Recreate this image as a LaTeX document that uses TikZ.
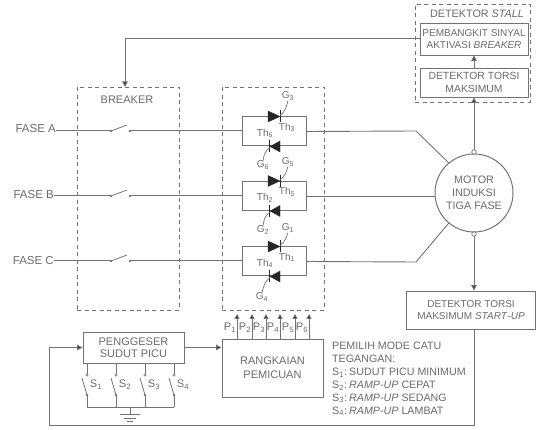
\documentclass[tikz,border=0pt]{standalone}
\usepackage{fontspec}
\setmainfont{Liberation Sans}
\usetikzlibrary{arrows.meta,calc}
\definecolor{ln}{gray}{0.45}
\definecolor{tx}{gray}{0.42}
\newcommand{\subs}[1]{\textsubscript{#1}}
\tikzset{
  lbl/.style={text=tx,font=\fontsize{10}{12.5}\selectfont,inner sep=0pt,align=center},
  small/.style={text=tx,font=\fontsize{10}{11}\selectfont,inner sep=0pt},
  blockbox/.style={draw=ln,line width=0.9pt,lbl,minimum width=#1},
  dbox/.style={draw=ln,line width=0.9pt,dashed,dash pattern=on 4pt off 3.5pt,inner sep=0pt},
  wire/.style={draw=ln,line width=1pt},
  conn/.style={wire,-{Triangle[length=5.5pt,width=5.5pt,fill=black!85]}},
  thybox/.style={draw=ln,line width=1pt,minimum width=64pt,minimum height=29pt,inner sep=0pt},
  dot/.style={circle,draw=ln,fill=ln,minimum size=2.2pt,inner sep=0pt},
  tri/.style={fill=black!85,draw=black!85,line width=0.3pt},
  gate/.style={draw=ln,line width=0.7pt},
}
\begin{document}
\begin{tikzpicture}[x=1pt,y=-1pt]
\useasboundingbox (0,0) rectangle (536,430);
% dashed containers
\node[dbox,minimum width=102pt,minimum height=223pt] (breaker) at (128,198.5) {};
\node[dbox,minimum width=102pt,minimum height=223pt] (thyr) at (273,198.5) {};
\node[dbox,minimum width=115pt,minimum height=98pt] (stall) at (472.5,53) {};
\node[lbl,font=\fontsize{11}{12}\selectfont] (brklabel) at (127,100) {BREAKER};
\node[lbl,font=\fontsize{10.8}{12}\selectfont] (stalllabel) at (477,14) {DETEKTOR \textit{STALL}};
% blocks
\node[blockbox=108pt,minimum height=32pt,font=\fontsize{10}{12.8}\selectfont] (pemb) at (474,39) {PEMBANGKIT SINYAL\\AKTIVASI \textit{BREAKER}};
\node[blockbox=108pt,minimum height=29pt,font=\fontsize{10.4}{12.8}\selectfont] (torsi) at (474,82.5) {DETEKTOR TORSI\\MAKSIMUM};
\node[circle,draw=ln,line width=1pt,minimum size=78pt,inner sep=0pt,lbl,font=\fontsize{10.8}{13}\selectfont] (motor) at (474,193) {MOTOR\\INDUKSI\\TIGA FASE};
\node[blockbox=129pt,minimum height=38pt] (start) at (471,310) {DETEKTOR TORSI\\MAKSIMUM \textit{START}-\textit{UP}};
\node[blockbox=101pt,minimum height=31pt,font=\fontsize{11}{12.5}\selectfont] (geser) at (133.5,347.5) {PENGGESER\\SUDUT PICU};
\node[blockbox=101pt,minimum height=58pt,font=\fontsize{11}{14}\selectfont] (picu) at (272.5,368) {RANGKAIAN\\PEMICUAN};
% thyristor blocks
\node[thybox] (thA) at (274,131.5) {};
\node[thybox] (thB) at (274,196) {};
\node[thybox] (thC) at (274,261.5) {};
% phase labels and switches
\node[lbl,anchor=east,font=\fontsize{11.5}{12}\selectfont] (fa) at (56,129) {FASE A};
\node[lbl,anchor=east,font=\fontsize{11.5}{12}\selectfont] (fb) at (54,195) {FASE B};
\node[lbl,anchor=east,font=\fontsize{11.5}{12}\selectfont] (fc) at (54,261) {FASE C};
\foreach \n/\y in {a/131,b/196,c/261}{
  \node[dot] (l\n) at (111,\y) {};
  \node[dot] (r\n) at (130,\y) {};
  \coordinate (t\n) at (127,\y-6);
  \draw[wire,line width=0.8pt] (l\n) -- (t\n);
}
\draw[wire] (fa.east |- la) -- (la);
\draw[wire] (fb.east |- lb) -- (lb);
\draw[wire] (fc.east |- lc) -- (lc);
\draw[wire] (ra) -- (ra -| thA.west);
\draw[wire] (rb) -- (rb -| thB.west);
\draw[wire] (rc) -- (rc -| thC.west);
% thyristor symbols
\foreach \b/\gx/\gy/\hx/\hy/\ga/\gb/\ta/\tb in {
  thA/288/96/263/165/3/6/3/6,
  thB/288/162/263/230/5/2/5/2,
  thC/288/228/262/297/1/4/1/4}{
  \fill[tri] ($(\b.north)+(-6,-5.5)$) -- ($(\b.north)+(6,0)$) -- ($(\b.north)+(-6,5.5)$) -- cycle;
  \draw[black!85,line width=1pt] ($(\b.north)+(6.5,-6)$) -- ($(\b.north)+(6.5,6)$);
  \fill[tri] ($(\b.south)+(6,-5.5)$) -- ($(\b.south)+(-4,0)$) -- ($(\b.south)+(6,5.5)$) -- cycle;
  \draw[black!85,line width=1pt] ($(\b.south)+(-4.5,-6)$) -- ($(\b.south)+(-4.5,6)$);
  \node[small] (g\ga) at (\gx,\gy) {G\subs{\ga}};
  \node[small] (g\gb) at (\hx,\hy) {G\subs{\gb}};
  \draw[gate] ($(\b.north)+(6,-1)$) .. controls ($(\b.north)+(11,-5)$) and ($(\b.north)+(12,-8)$) .. (g\ga.south);
  \draw[gate] ($(\b.south)+(-4,1)$) .. controls ($(\b.south)+(-9,5)$) and ($(\b.south)+(-10,8)$) .. (g\gb.north);
  \node[small] at ($(\b.center)+(13,-4)$) {Th\subs{\ta}};
  \node[small] at ($(\b.center)+(-9,2)$) {Th\subs{\tb}};
}
% thyristors to motor
\coordinate (bendA) at (416,131);
\coordinate (bendC) at (416,262);
\draw[wire,line width=0.9pt] (thA.east) -- (bendA) -- (motor.130);
\draw[wire,line width=0.9pt] (thB.east) -- (thB.east -| motor.west);
\draw[wire,line width=0.9pt] (thC.east) -- (bendC) -- (motor.230);
% feedback and detection
\coordinate (brkin) at (125,87);
\draw[conn] (pemb.west) -| (brkin);
\draw[conn] (torsi.north) -- (pemb.south);
\draw[conn] (motor.north) -- (torsi.south);
\draw[conn] (motor.south) -- (motor.south |- start.north);
\node[circle,draw=ln,fill=white,line width=0.7pt,minimum size=4.5pt,inner sep=0pt] (mtop) at ($(motor.north)+(0,-1.5)$) {};
\node[circle,draw=ln,fill=white,line width=0.7pt,minimum size=4.5pt,inner sep=0pt] (mbot) at ($(motor.south)+(0,1.5)$) {};
\coordinate (retA) at (474,426);
\coordinate (retB) at (49,426);
\draw[wire] (motor.south |- start.south) -- (retA) -- (retB);
\draw[conn] (retB) |- (geser.west);
\draw[conn] (geser.east) -- (geser.east -| picu.west);
% firing outputs
\foreach \i/\x in {1/237,2/252,3/266,4/280,5/295,6/309}{
  \coordinate (pin\i) at (\x,339);
  \coordinate (pout\i) at (\x,314);
  \draw[wire,line width=0.9pt,-{Triangle[length=5pt,width=5pt,fill=black!85]}] (pin\i) -- (pout\i);
  \node[small,font=\fontsize{11}{11}\selectfont] (p\i) at (\x-7,328) {P\subs{\i}};
}
% mode switches
\foreach \i/\x in {1/87,2/116,3/145,4/174}{
  \node[dot,fill=white,minimum size=2.5pt] (su\i) at (\x,375) {};
  \node[dot] (sd\i) at (\x,395) {};
  \coordinate (sb\i) at (\x-5,378);
  \coordinate (sg\i) at (\x,407);
  \draw[wire,line width=0.8pt] (su\i) -- (su\i |- geser.south);
  \draw[wire,line width=0.8pt] (sd\i) -- (sb\i);
  \draw[wire,line width=0.8pt] (sd\i) -- (sg\i);
  \node[small,font=\fontsize{11}{11}\selectfont] (sl\i) at (\x+9,384.5) {S\subs{\i}};
}
\draw[wire,line width=0.9pt] (sg1) -- (sg4);
% ground
\coordinate (gtop) at (130,407);
\coordinate (gnd) at (130,414);
\draw[wire,line width=0.8pt] (gtop) -- (gnd);
\draw[wire,line width=0.8pt] (120,414) -- (140,414);
\draw[wire,line width=0.8pt] (124,418) -- (136,418);
\draw[wire,line width=0.8pt] (127,421) -- (133,421);
% legend
\node[lbl,anchor=north west,align=left,font=\fontsize{10.7}{12.9}\selectfont] (legend) at (332,342) {%
PEMILIH MODE CATU\\
TEGANGAN:\\
\makebox[17pt][l]{S\subs{1}:}SUDUT PICU MINIMUM\\
\makebox[17pt][l]{S\subs{2}:}\textit{RAMP-UP} CEPAT\\
\makebox[17pt][l]{S\subs{3}:}\textit{RAMP-UP} SEDANG\\
\makebox[17pt][l]{S\subs{4}:}\textit{RAMP-UP} LAMBAT};
\end{tikzpicture}
\end{document}
